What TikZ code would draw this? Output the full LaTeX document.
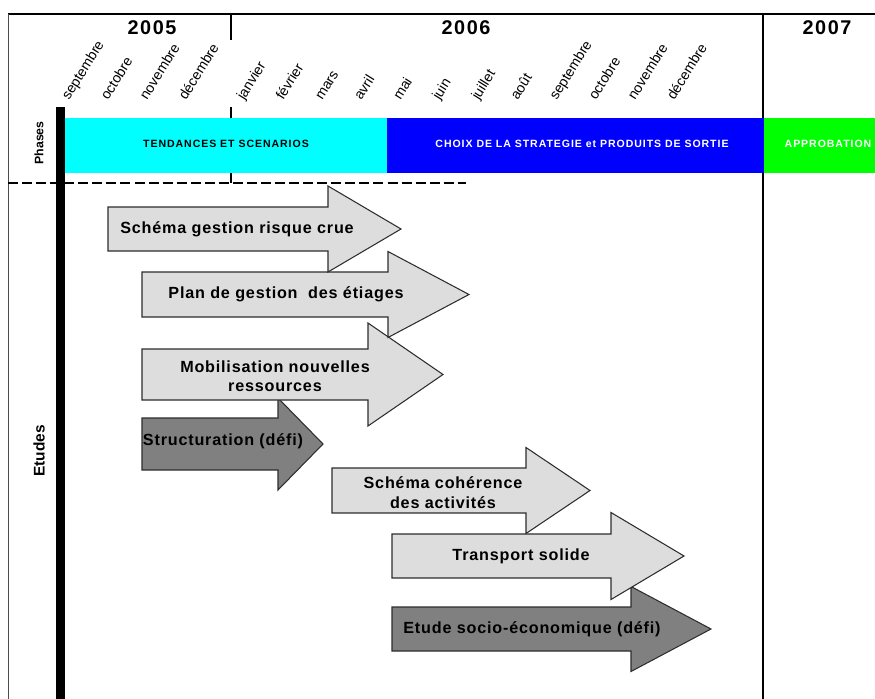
\documentclass[tikz,border=0pt]{standalone}
\usepackage{fontspec}
\setmainfont{Liberation Sans}
\newfontfamily\phaseFont{Liberation Sans}[LetterSpace=9]
\newfontfamily\studyFont{Liberation Sans}[LetterSpace=5]
\newfontfamily\yearFont{Liberation Sans}[LetterSpace=8]
\usepackage{tikz}
\usetikzlibrary{calc}
\definecolor{phaseCyan}{RGB}{0, 255, 255}
\definecolor{phaseBlue}{RGB}{0, 0, 255}
\definecolor{phaseGreen}{RGB}{0, 255, 0}
\definecolor{studyLight}{RGB}{221, 221, 221}
\definecolor{studyDark}{RGB}{128, 128, 128}
\definecolor{studyEdge}{RGB}{45, 45, 45}
% block arrow: fill, left x, centre y, body half height, head base x, head half height, tip x
\newcommand{\StudyArrow}[7]{
	\def\lfill{#1}
	\def\lleft{#2}
	\def\lmid{#3}
	\def\lbody{#4}
	\def\lbase{#5}
	\def\lhead{#6}
	\def\ltip{#7}
	\filldraw[draw=studyEdge, fill=\lfill, line width=0.6pt, line join=miter]
		(\lleft, \lmid-\lbody) -- (\lbase, \lmid-\lbody) -- (\lbase, \lmid-\lhead) -- (\ltip, \lmid)
		-- (\lbase, \lmid+\lhead) -- (\lbase, \lmid+\lbody) -- (\lleft, \lmid+\lbody) -- cycle;
}

\begin{document}
\begin{tikzpicture}[x=0.02cm, y=-0.02cm,
		year/.style={font=\yearFont\bfseries\fontsize{11.3}{12}\selectfont},
		month/.style={font=\fontsize{8}{9}\selectfont, rotate=58, anchor=base west, inner sep=0pt},
		phase/.style={font=\phaseFont\bfseries\fontsize{6}{7}\selectfont, inner sep=0pt},
		side/.style={font=\bfseries, rotate=90, inner sep=0pt},
		studytext/.style={font=\studyFont\bfseries\fontsize{9.2}{11}\selectfont, align=center, inner sep=0pt}
	]

	\useasboundingbox (0,0) rectangle (875,699);

	% frame and year separators
	\draw[line width=1.1pt] (8,14) -- (875,14);
	\draw[line width=0.5pt, black!70] (8,14) -- (8,699);
	\draw[line width=1.1pt] (763,14) -- (763,699);
	\draw[line width=1.1pt] (231,14) -- (231,40);
	\draw[line width=1.1pt] (231,107) -- (231,183);

	\node[year] (y2005) at (152,28) {2005};
	\node[year] (y2006) at (466,28) {2006};
	\node[year] (y2007) at (827,28) {2007};

	% months
	\foreach \m [count=\i from 0] in {septembre, octobre, novembre, décembre}
		\node[month] (m05-\i) at (69+39*\i, 101) {\m};
	\foreach \m [count=\i from 0] in {janvier, février, mars, avril, mai, juin, juillet, août, septembre, octobre, novembre, décembre}
		\node[month] (m06-\i) at (244+39.1*\i, 101) {\m};

	% phases
	\fill[phaseCyan] (65,118) rectangle (387,173);
	\fill[phaseBlue] (387,118) rectangle (764,173);
	\fill[phaseGreen] (764,118) rectangle (875,173);
	\node[phase] (tendances) at (226,143.5) {TENDANCES ET SCENARIOS};
	\node[phase, white] (choix) at (582,143.5) {CHOIX DE LA STRATEGIE et PRODUITS DE SORTIE};
	\node[phase, white] (approbation) at (828,143.5) {APPROBATION};

	\draw[line width=1.1pt, dash pattern=on 5.7pt off 2.3pt] (8,183) -- (466,183);
	\fill[black] (56,107) rectangle (65,699);

	\node[side, font=\bfseries\fontsize{7}{8}\selectfont] (phases) at (39,143) {Phases};
	\node[side, font=\bfseries\fontsize{8.8}{10}\selectfont] (etudes) at (39,451) {Etudes};

	% studies, lowest first
	\StudyArrow{studyDark}{392}{629}{22}{631}{42.5}{711}
	\StudyArrow{studyLight}{392}{556}{22}{611}{43.5}{684}
	\StudyArrow{studyLight}{332}{490.5}{22.5}{526}{43}{590}
	\StudyArrow{studyDark}{142}{444}{26}{278}{46}{323}
	\StudyArrow{studyLight}{142}{374.5}{25.5}{368}{51.5}{443}
	\StudyArrow{studyLight}{142}{294.5}{22.5}{388}{43}{469}
	\StudyArrow{studyLight}{108}{229}{22}{328}{43}{401}

	\node[studytext] (crue) at (237,229) {Schéma gestion risque crue};
	\node[studytext] (etiages) at (286,294.5) {Plan de gestion\ \ des étiages};
	\node[studytext] (ressources) at (275,376) {Mobilisation nouvelles\\ressources};
	\node[studytext] (structuration) at (223,441) {Structuration (défi)};
	\node[studytext] (activites) at (443,492.5) {Schéma cohérence\\des activités};
	\node[studytext] (transport) at (521,556) {Transport solide};
	\node[studytext] (socio) at (532,629) {Etude socio-économique (défi)};

\end{tikzpicture}
\end{document}
